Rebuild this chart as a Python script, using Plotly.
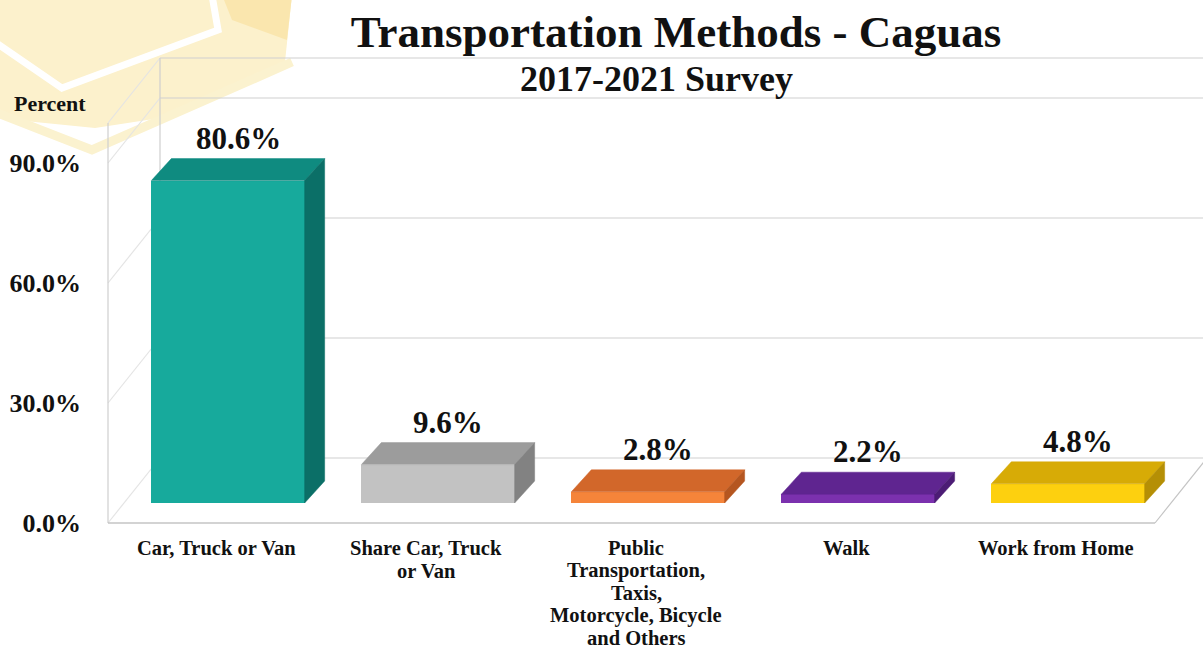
import plotly.graph_objects as go

# ---- data -------------------------------------------------------------
categories = [
    "Car, Truck or Van",
    "Share Car, Truck<br>or Van",
    "Public<br>Transportation,<br>Taxis,<br>Motorcycle, Bicycle<br>and Others",
    "Walk",
    "Work from Home",
]
percent = [80.6, 9.6, 2.8, 2.2, 4.8]
y_ticks = [0, 30, 60, 90]

front_colors = ["#17aa9c", "#c2c2c2", "#f5843a", "#7b31ae", "#fdd00f"]
top_colors = ["#0f8b80", "#9c9c9c", "#d2672a", "#5f2590", "#d7ab06"]
side_colors = ["#0b6f67", "#828282", "#b55620", "#4c1c75", "#b58f05"]

# ---- geometry of the pseudo-3D frame ---------------------------------
W, H = 1203, 648
PL, PR, PT, PB = 100, 1203, 50, 530          # plot area in pixels
PX_PER_CAT = 210.0                            # pixels per category step
PX_PER_PCT = 4.0                              # pixels per percent
ZERO_PX = 503                                 # pixel row of 0% on bar fronts
FIRST_PX = 228                                # pixel column of first bar centre

x_range = [(PL - FIRST_PX) / PX_PER_CAT, (PR - FIRST_PX) / PX_PER_CAT]
y_range = [-(PB - ZERO_PX) / PX_PER_PCT, (ZERO_PX - PT) / PX_PER_PCT]

BAR_W = 0.73
BAR_DX, BAR_DY = 20 / PX_PER_CAT, 22 / PX_PER_PCT     # bar depth
WALL_DX, WALL_DY = 52 / PX_PER_CAT, 65 / PX_PER_PCT   # wall depth
FRONT_DY = -20 / PX_PER_PCT                           # front plane below bars
WALL_X0 = (108 - FIRST_PX) / PX_PER_CAT
FLOOR_X1 = (1155 - FIRST_PX) / PX_PER_CAT
WALL_TOP = 100
BACK_DY = FRONT_DY + WALL_DY


def pxx(p):
    return (p - PL) / (PR - PL)


def pxy(p):
    return (PB - p) / (PB - PT)


SERIF = "Liberation Serif, Times New Roman, serif"
GRID = "#cfcfcf"

fig = go.Figure()

idx = list(range(len(categories)))

# front faces
fig.add_trace(go.Bar(
    x=idx, y=percent, width=BAR_W, base=0,
    marker=dict(color=front_colors, line=dict(width=0)),
    hoverinfo="skip", showlegend=False,
))

# top and side faces
for i, v in enumerate(percent):
    l, r = i - BAR_W / 2, i + BAR_W / 2
    fig.add_trace(go.Scatter(
        x=[l, r, r + BAR_DX, l + BAR_DX, l],
        y=[v, v, v + BAR_DY, v + BAR_DY, v],
        fill="toself", fillcolor=top_colors[i], mode="lines",
        line=dict(width=0.5, color=top_colors[i]),
        hoverinfo="skip", showlegend=False,
    ))
    fig.add_trace(go.Scatter(
        x=[r, r + BAR_DX, r + BAR_DX, r, r],
        y=[0, BAR_DY, v + BAR_DY, v, 0],
        fill="toself", fillcolor=side_colors[i], mode="lines",
        line=dict(width=0.5, color=side_colors[i]),
        hoverinfo="skip", showlegend=False,
    ))

shapes = []


def seg(x0, y0, x1, y1, color=GRID, width=1.2):
    shapes.append(dict(type="line", xref="x", yref="y", x0=x0, y0=y0,
                       x1=x1, y1=y1, line=dict(color=color, width=width),
                       layer="below"))


# back wall gridlines, floor and left wall
back_x0 = WALL_X0 + WALL_DX
for t in y_ticks + [WALL_TOP]:
    seg(back_x0, t + BACK_DY, x_range[1] + 1, t + BACK_DY)
    seg(WALL_X0, t + FRONT_DY, back_x0, t + BACK_DY, color="#e4e4e4")
seg(WALL_X0, FRONT_DY, WALL_X0, WALL_TOP + FRONT_DY)
seg(back_x0, BACK_DY, back_x0, WALL_TOP + BACK_DY)
seg(WALL_X0, FRONT_DY, FLOOR_X1, FRONT_DY, color="#c4c4c4", width=1.6)
seg(FLOOR_X1, FRONT_DY, FLOOR_X1 + WALL_DX, BACK_DY, color="#c4c4c4")


# pale watermark in the upper left corner
def ppts(pts):
    return " L ".join(f"{pxx(a):.4f},{pxy(b):.4f}" for a, b in pts)


shapes.append(dict(type="path", xref="paper", yref="paper", layer="below",
                   path="M " + ppts([(-5, -5), (292, -5), (285, 62), (160, 118),
                                     (95, 128), (-5, 118)]) + " Z",
                   fillcolor="#fcf1cc", line=dict(width=0)))
shapes.append(dict(type="path", xref="paper", yref="paper", layer="below",
                   path="M " + ppts([(222, -5), (292, -5), (287, 40), (232, 20)]) + " Z",
                   fillcolor="#fae6ae", line=dict(width=0)))
shapes.append(dict(type="path", xref="paper", yref="paper", layer="below",
                   path="M " + ppts([(-5, 42), (62, 88), (218, 30), (212, -5)]),
                   line=dict(color="#ffffff", width=7)))
shapes.append(dict(type="path", xref="paper", yref="paper", layer="below",
                   path="M " + ppts([(-5, 112), (92, 150), (292, 62)]),
                   line=dict(color="#fbf2cf", width=9)))

annotations = []

# value labels above each bar
for i, v in enumerate(percent):
    annotations.append(dict(
        x=i + BAR_DX / 2, y=v + BAR_DY, xref="x", yref="y",
        text=f"<b>{v:.1f}%</b>", showarrow=False, yanchor="bottom", yshift=1,
        font=dict(family=SERIF, size=31, color="#111111"),
    ))

# category labels (tight line spacing)
LABEL_DX = -12 / PX_PER_CAT
for i, name in enumerate(categories):
    for k, line in enumerate(name.split("<br>")):
        annotations.append(dict(
            x=i + LABEL_DX, y=pxy(548 + 22.5 * k), xref="x", yref="paper",
            text=f"<b>{line}</b>", showarrow=False, yanchor="middle",
            font=dict(family=SERIF, size=20.5, color="#111111"),
        ))

annotations.append(dict(
    x=pxx(656), y=pxy(79), xref="paper", yref="paper",
    text="<b>2017-2021 Survey</b>", showarrow=False,
    xanchor="center", yanchor="middle",
    font=dict(family=SERIF, size=36, color="#111111"),
))
annotations.append(dict(
    x=pxx(50), y=pxy(103), xref="paper", yref="paper",
    text="<b>Percent</b>", showarrow=False,
    xanchor="center", yanchor="middle",
    font=dict(family=SERIF, size=22, color="#111111"),
))

fig.update_layout(
    width=W, height=H,
    margin=dict(l=PL, r=W - PR, t=PT, b=H - PB, pad=0),
    paper_bgcolor="white", plot_bgcolor="rgba(0,0,0,0)",
    title=dict(text="<b>Transportation Methods - Caguas</b>",
               x=676 / W, xanchor="center", y=1 - 31 / H, yanchor="middle",
               font=dict(family=SERIF, size=45, color="#111111")),
    xaxis=dict(range=x_range, showgrid=False, zeroline=False,
               showticklabels=False, showline=False, fixedrange=True),
    yaxis=dict(range=y_range, showgrid=False, zeroline=False, showline=False,
               tickmode="array",
               tickvals=[t + FRONT_DY for t in y_ticks],
               ticktext=[f"<b>{t:.1f}%</b>" for t in y_ticks],
               tickfont=dict(family=SERIF, size=26, color="#111111"),
               ticks="", ticklabelstandoff=18, fixedrange=True),
    shapes=shapes, annotations=annotations,
    bargap=0,
)

fig.write_html("out.html")
